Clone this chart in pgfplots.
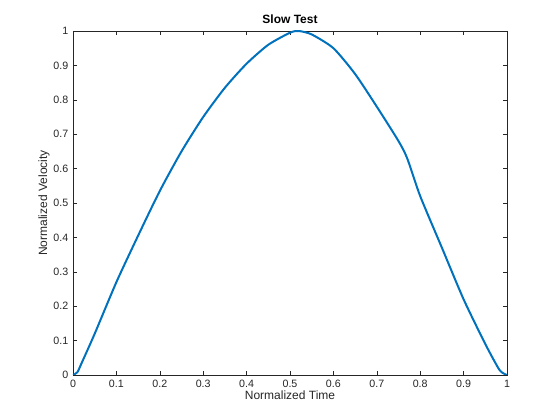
\documentclass[border=0pt]{standalone}
\usepackage{pgfplots}
\pgfplotsset{compat=1.18}
\usepackage{fontspec}
\setmainfont{Liberation Sans}
\definecolor{mblue}{RGB}{0,114,189}
\definecolor{axgray}{RGB}{38,38,38}
\begin{document}
\begin{tikzpicture}
\begin{axis}[
  scale only axis, width=325.5pt, height=258pt,
  xmin=0, xmax=1, ymin=0, ymax=1,
  xtick={0,0.1,...,1}, ytick={0,0.1,...,1},
  xticklabels={0,0.1,0.2,0.3,0.4,0.5,0.6,0.7,0.8,0.9,1},
  yticklabels={0,0.1,0.2,0.3,0.4,0.5,0.6,0.7,0.8,0.9,1},
  tick align=inside, tick style={axgray, line width=0.4pt}, major tick length=3pt,
  axis line style={axgray, line width=0.4pt},
  ticklabel style={font=\fontsize{8pt}{9.5pt}\selectfont, text=axgray},
  label style={font=\fontsize{9pt}{11pt}\selectfont, text=axgray},
  title style={font=\fontsize{9pt}{11pt}\selectfont\bfseries, yshift=-4pt},
  title={Slow Test},
  xlabel={Normalized Time}, ylabel={Normalized Velocity},
  xlabel style={yshift=4pt}, ylabel style={yshift=-4pt},
]
\addplot[mblue, line width=1.5pt, smooth, tension=0.4] coordinates {
(0,0) (0.01,0.008) (0.02,0.035) (0.05,0.12) (0.1,0.27) (0.15,0.405) (0.2,0.535)
(0.25,0.65) (0.3,0.75) (0.35,0.835) (0.4,0.905) (0.45,0.96) (0.5,0.995) (0.52,1.0)
(0.55,0.99) (0.6,0.95) (0.65,0.875) (0.7,0.78) (0.75,0.68) (0.77,0.63) (0.8,0.52) (0.85,0.37)
(0.9,0.22) (0.95,0.09) (0.98,0.02) (0.99,0.006) (1,0)};
\end{axis}
\useasboundingbox (current axis.south west) ++(-54.75pt,-33.75pt) rectangle ++(420pt,315pt);
\end{tikzpicture}
\end{document}
